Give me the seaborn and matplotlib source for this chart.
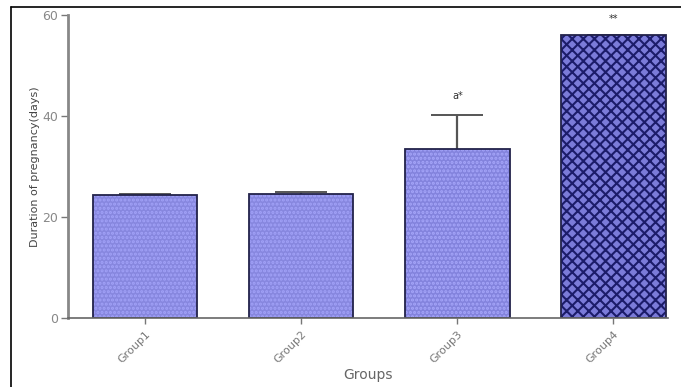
import matplotlib
matplotlib.use("Agg")
import matplotlib.pyplot as plt
import seaborn as sns
import pandas as pd
from matplotlib.lines import Line2D

groups = ["Group1", "Group2", "Group3", "Group4"]
means = [24.4, 24.6, 33.4, 56.0]
upper_err = [0.2, 0.4, 6.8, 0.0]
annotations = ["", "", "a*", "**"]
ann_y = [0, 0, 43.0, 58.3]

df = pd.DataFrame({"group": groups, "mean": means})

sns.set_style("white")
plt.rcParams["font.family"] = ["DejaVu Sans"]
plt.rcParams["hatch.linewidth"] = 1.5

fig = plt.figure(figsize=(6.81, 3.87), dpi=100)
ax = fig.add_axes([0.0999, 0.178, 0.881, 0.783])

fills = ["#7878ee", "#7878ee", "#7474ec", "#6c6ce8"]
hatch_cols = ["#a2a2f8", "#a2a2f8", "#a6a6fa", "#1c1c6a"]
hatches = ["....", "....", "....", "xxx"]

# Filled, hatched bars
sns.barplot(data=df, x="group", y="mean", hue="group", palette=fills,
            width=0.67, legend=False, ax=ax, errorbar=None, linewidth=0)
for patch, hc, h in zip(ax.patches, hatch_cols, hatches):
    patch.set_hatch(h)
    patch.set_edgecolor(hc)
    patch.set_linewidth(0)
    patch.set_zorder(2)

# Outline bars
sns.barplot(data=df, x="group", y="mean", fill=False, width=0.67,
            ax=ax, errorbar=None, edgecolor="#22224a", linewidth=1.3)
for patch in ax.patches[len(groups):]:
    patch.set_zorder(3)

# Error bars (lower half hidden behind bars)
ax.errorbar(x=range(len(groups)), y=means, yerr=upper_err, fmt="none",
            ecolor="#555555", elinewidth=1.6, capsize=19, capthick=1.4,
            zorder=1)

for i, (t, yv) in enumerate(zip(annotations, ann_y)):
    if t:
        ax.text(i, yv, t, ha="center", va="bottom", fontsize=7, color="#333333")

ax.set_ylim(0, 60)
ax.set_xlim(-0.494, 3.35)
ax.set_yticks([0, 20, 40, 60])
ax.tick_params(axis="y", direction="out", length=5, width=1, colors="#777777",
               labelsize=9, labelcolor="#888888", left=True, pad=2)
ax.tick_params(axis="x", direction="out", length=4, width=1, colors="#777777",
               bottom=True, labelsize=8, labelcolor="#777777")
plt.setp(ax.get_xticklabels(), rotation=45, ha="right", rotation_mode="anchor")

for s in ["top", "right"]:
    ax.spines[s].set_visible(False)
ax.spines["left"].set_color("#888888")
ax.spines["left"].set_linewidth(2)
ax.spines["bottom"].set_color("#666666")
ax.spines["bottom"].set_linewidth(1.2)
ax.spines["bottom"].set_zorder(4)

ax.set_xlabel("Groups", fontsize=10, color="#666666")
ax.set_ylabel("Duration of pregnancy(days)", fontsize=8, color="#444444", labelpad=2)
ax.xaxis.set_label_coords(0.5, -0.165)

# Outer frame lines (left and top)
fig.add_artist(Line2D([11 / 681, 11 / 681], [0, 1 - 7 / 387], color="black", lw=1.2,
                      transform=fig.transFigure))
fig.add_artist(Line2D([11 / 681, 1], [1 - 7 / 387, 1 - 7 / 387], color="black", lw=1.2,
                      transform=fig.transFigure))

fig.savefig("out.png", dpi=100)
